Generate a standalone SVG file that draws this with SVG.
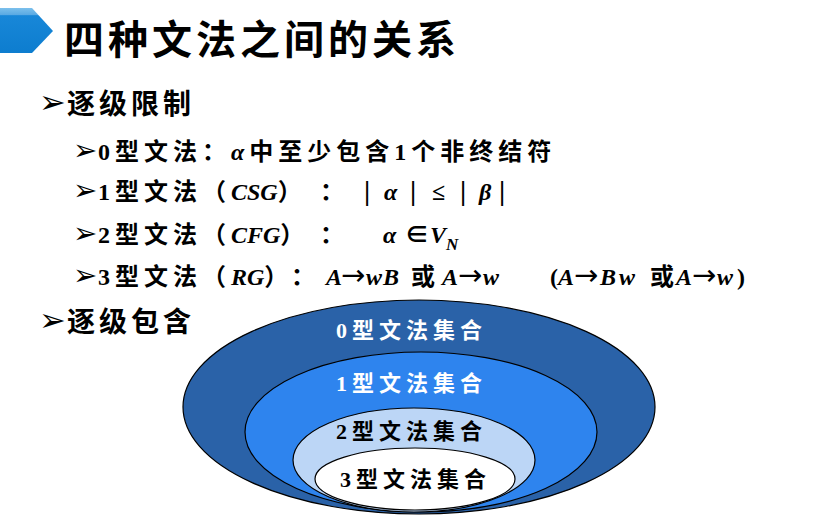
<svg xmlns="http://www.w3.org/2000/svg" width="829" height="522" viewBox="0 0 829 522">
  <defs>
    <linearGradient id="tabFill" x1="0" y1="0" x2="0" y2="1">
      <stop offset="0" stop-color="#7cc0ec"/>
      <stop offset="0.15" stop-color="#5aaae3"/>
      <stop offset="0.17" stop-color="#1887d8"/>
      <stop offset="1" stop-color="#0d7dcf"/>
    </linearGradient>
  </defs>
  <style>
    .title { font-family: "Noto Sans CJK SC", "Noto Sans", sans-serif; font-weight: bold; font-size: 40px; fill: #000; letter-spacing: 4px; }
    .b1 { font-family: "DejaVu Sans", sans-serif; font-size: 32px; fill: #000; }
    .b2 { font-family: "DejaVu Sans", sans-serif; font-size: 29px; fill: #000; }
    .h1 { font-family: "Noto Sans CJK SC", sans-serif; font-weight: bold; font-size: 28px; fill: #000; letter-spacing: 4px; }
    .body { font-family: "Liberation Serif", "Noto Sans CJK SC", serif; font-weight: bold; font-size: 24px; fill: #000; letter-spacing: 5px; }
    .cjk { font-family: "Noto Sans CJK SC", sans-serif; }
    .tight { letter-spacing: 0px; }
    .it { font-family: "Liberation Serif", serif; font-style: italic; letter-spacing: 0px; }
    .arr { font-family: "DejaVu Sans", sans-serif; font-weight: normal; font-size: 29px; letter-spacing: 0px; }
    .bar { font-size: 28px; letter-spacing: 0px; }
    .set { stroke: #000; stroke-width: 1.2; }
    .lbl { font-family: "Liberation Serif", "Noto Sans CJK SC", serif; font-weight: bold; font-size: 22px; letter-spacing: 5px; }
  </style>

  <!-- heading -->
  <g id="heading">
    <polygon points="0,8 32,8 53,31 32,53 0,53" fill="url(#tabFill)"/>
    <text class="title" x="64" y="54">四种文法之间的关系</text>
  </g>

  <!-- bullet list -->
  <g id="list">
    <text class="b1" x="39" y="113">➢</text>
    <text class="h1" x="67" y="114">逐级限制</text>

    <text class="b2" x="73" y="160">➢</text>
    <text class="body" x="98" y="160">0<tspan class="cjk">型文法：</tspan><tspan class="it">α</tspan><tspan class="cjk" dx="5">中至少包含</tspan>1<tspan class="cjk">个非终结符</tspan></text>

    <text class="b2" x="73" y="200">➢</text>
    <text class="body" x="98" y="200">1<tspan class="cjk">型文法（</tspan><tspan class="it">CSG</tspan><tspan class="cjk tight">）</tspan><tspan x="320" class="cjk tight">：</tspan><tspan x="364" class="bar">|</tspan><tspan x="384" class="it">α</tspan><tspan x="410" class="bar">|</tspan><tspan x="432" class="tight">≤</tspan><tspan x="460" class="bar">|</tspan><tspan x="479" class="it">β</tspan><tspan x="499" class="bar">|</tspan></text>

    <text class="b2" x="73" y="243">➢</text>
    <text class="body" x="98" y="243">2<tspan class="cjk">型文法（</tspan><tspan class="it">CFG</tspan><tspan class="cjk tight">）</tspan><tspan x="320" class="cjk tight">：</tspan><tspan x="383" class="it">α</tspan><tspan x="405" class="tight">∈</tspan><tspan x="430" class="it">V</tspan><tspan class="it" font-size="17" dy="7">N</tspan></text>

    <text class="b2" x="73" y="285">➢</text>
    <text class="body" x="98" y="285">3<tspan class="cjk">型文法（</tspan><tspan class="it">RG</tspan><tspan class="cjk tight">）</tspan><tspan x="291" class="cjk tight">：</tspan><tspan x="326" class="it">A</tspan><tspan x="341" class="arr">→</tspan><tspan x="366" class="it">w</tspan><tspan x="383" class="it">B</tspan><tspan x="411" class="cjk tight">或</tspan><tspan x="442" class="it">A</tspan><tspan x="458" class="arr">→</tspan><tspan x="483" class="it">w</tspan><tspan x="550" class="tight">(</tspan><tspan x="558" class="it">A</tspan><tspan x="574" class="arr">→</tspan><tspan x="600" class="it">B</tspan><tspan x="619" class="it">w</tspan><tspan x="650" class="cjk tight">或</tspan><tspan x="676" class="it">A</tspan><tspan x="692" class="arr">→</tspan><tspan x="717" class="it">w</tspan><tspan x="737" class="tight">)</tspan></text>

    <text class="b1" x="39" y="331">➢</text>
    <text class="h1" x="67" y="332">逐级包含</text>
  </g>

  <!-- nested grammar sets -->
  <g id="set0">
    <ellipse class="set" cx="419" cy="407" rx="236" ry="107" fill="#2a62a8"/>
    <text class="lbl" x="336" y="338" fill="#fff">0<tspan class="cjk">型文法集合</tspan></text>
  </g>
  <g id="set1">
    <ellipse class="set" cx="421" cy="432" rx="176" ry="80" fill="#2e84ee"/>
    <text class="lbl" x="336" y="391" fill="#fff">1<tspan class="cjk">型文法集合</tspan></text>
  </g>
  <g id="set2">
    <ellipse class="set" cx="414" cy="460" rx="121" ry="52" fill="#bcd6f6"/>
    <text class="lbl" x="336" y="439" fill="#000">2<tspan class="cjk">型文法集合</tspan></text>
  </g>
  <g id="set3">
    <ellipse class="set" cx="415" cy="479" rx="100" ry="31" fill="#fff"/>
    <text class="lbl" x="340" y="487" fill="#000">3<tspan class="cjk">型文法集合</tspan></text>
  </g>
</svg>
